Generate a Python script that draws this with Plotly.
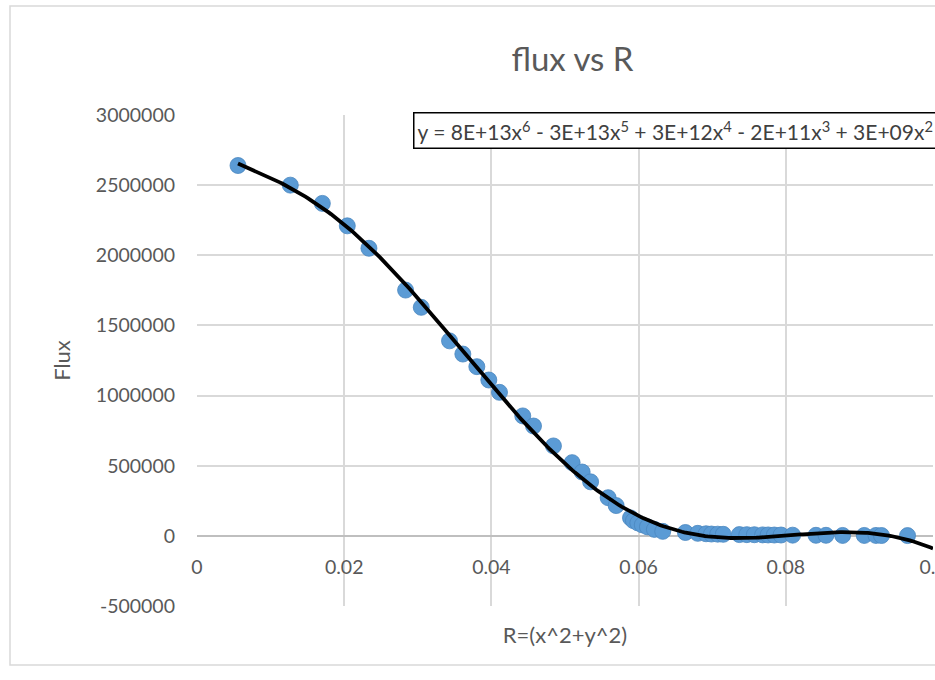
import numpy as np
import plotly.graph_objects as go

# ---- data ----
r_values = [0.00557, 0.01268, 0.01703, 0.02042, 0.02336, 0.02834, 0.03047,
            0.03431, 0.03612, 0.03802, 0.03965, 0.04110, 0.04426, 0.04572,
            0.04843, 0.05097, 0.05233, 0.05348, 0.05586, 0.05695, 0.05890,
            0.05930, 0.05990, 0.06050, 0.06120, 0.06215, 0.06328, 0.06636,
            0.06804, 0.06917, 0.06990, 0.07075, 0.07150, 0.07369, 0.07470,
            0.07573, 0.07685, 0.07760, 0.07844, 0.07935, 0.08093, 0.08410,
            0.08546, 0.08772, 0.09066, 0.09225, 0.09300, 0.09654]
flux_values = [2640000, 2500000, 2370000, 2210000, 2050000, 1752000, 1629000,
               1390000, 1296000, 1206000, 1111000, 1023000, 855000, 783000,
               641000, 522000, 455000, 385000, 272000, 216000, 128000,
               108000, 92000, 78000, 64000, 46000, 32000, 24000,
               18000, 15000, 13000, 12000, 11000, 9000, 8500,
               8000, 7000, 6500, 6000, 6000, 5000, 4000,
               4000, 3000, 3000, 3000, 2500, 2000]

x_ticks = [0, 0.02, 0.04, 0.06, 0.08, 0.1]
x_tick_labels = ["0", "0.02", "0.04", "0.06", "0.08", "0.1"]
y_ticks = [-500000, 0, 500000, 1000000, 1500000, 2000000, 2500000, 3000000]
y_tick_labels = ["-500000", "0", "500000", "1000000", "1500000", "2000000",
                 "2500000", "3000000"]

chart_title = "flux vs R"
x_title = "R=(x^2+y^2)"
y_title = "Flux"
equation = ("y = 8E+13x<sup>6</sup> - 3E+13x<sup>5</sup> + 3E+12x<sup>4</sup> - "
            "2E+11x<sup>3</sup> + 3E+09x<sup>2</sup> - 2E+07x + 3E+06")

# ---- 6th order polynomial trendline fitted to the points ----
poly = np.polynomial.Polynomial.fit(np.array(r_values), np.array(flux_values), 6)
trend_x = np.linspace(min(r_values), 0.1, 300)
trend_y = poly(trend_x)

FONT = "Lato, 'Open Sans', sans-serif"
TXT = "#595959"

fig = go.Figure()
fig.add_trace(go.Scatter(
    x=r_values, y=flux_values, mode="markers",
    marker=dict(size=16, color="#5B9BD5", line=dict(color="#4A86BF", width=0.8)),
    showlegend=False, hoverinfo="skip"))
fig.add_trace(go.Scatter(
    x=trend_x, y=trend_y, mode="lines", xaxis="x2",
    line=dict(color="black", width=3.8), showlegend=False, hoverinfo="skip"))

W, H = 935, 680
L, R, T, B = 197, 2, 115, 74
pw = W - L - R
ph = H - T - B

def px(xp):
    return (xp - L) / pw

def py(yp):
    return (H - B - yp) / ph

fig.update_layout(
    template="none",
    width=W, height=H,
    margin=dict(l=L, r=R, t=T, b=B, pad=0, autoexpand=False),
    paper_bgcolor="white", plot_bgcolor="white",
    font=dict(family=FONT, color=TXT),
    title=dict(text=chart_title, font=dict(size=33, color=TXT, family=FONT),
               xref="paper", x=px(572.5), xanchor="center",
               yref="container", y=1 - 59 / H, yanchor="middle"),
    xaxis=dict(range=[0, 0.1], tickvals=x_ticks, showticklabels=False,
               showgrid=True, gridcolor="#D9D9D9", gridwidth=1.5,
               zeroline=False, showline=False, ticks="", automargin=False,
               title=dict(text=x_title, font=dict(size=22, color=TXT), standoff=21)),
    xaxis2=dict(range=[0, 0.1], overlaying="x", anchor="free", position=1 / 7,
                side="bottom", tickvals=x_ticks, ticktext=x_tick_labels,
                showgrid=False, zeroline=False, showline=False, ticks="",
                ticklabelstandoff=18, ticklabeloverflow="allow", automargin=False,
                tickfont=dict(size=19.5, color=TXT)),
    yaxis=dict(range=[-500000, 3000000], tickvals=y_ticks, ticktext=y_tick_labels,
               showgrid=True, gridcolor="#D9D9D9", gridwidth=1.5,
               zeroline=True, zerolinecolor="#BFBFBF", zerolinewidth=1.8,
               showline=False, ticks="", ticklabelstandoff=21, automargin=False,
               tickfont=dict(size=19.5, color=TXT),
               title=dict(text=y_title, font=dict(size=22, color=TXT), standoff=19)),
    shapes=[dict(type="rect", xref="paper", yref="paper",
                 x0=px(10), x1=px(1100), y0=py(665), y1=py(6),
                 line=dict(color="#D9D9D9", width=1.5), fillcolor="rgba(0,0,0,0)",
                 layer="below")],
    annotations=[dict(text=equation, xref="paper", yref="paper",
                      x=px(413), xanchor="left", y=py(130), yanchor="middle",
                      showarrow=False, align="left",
                      font=dict(size=21, color="#404040", family=FONT),
                      bordercolor="black", borderwidth=1.5, borderpad=3,
                      bgcolor="white")],
)

fig.write_html("out.html", config={"displayModeBar": False},
               post_script="document.body.style.margin='0px';")
